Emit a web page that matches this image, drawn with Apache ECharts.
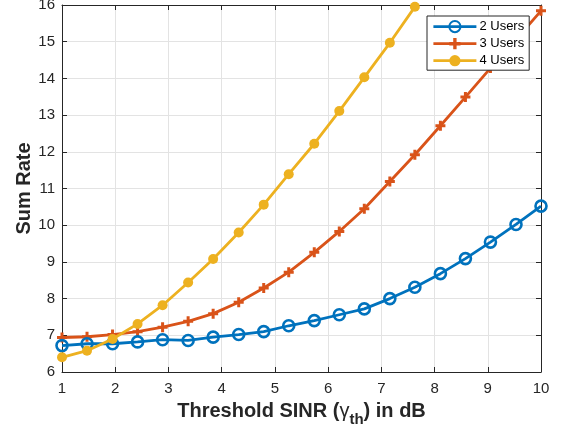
<!DOCTYPE html>
<html>
<head>
<meta charset="utf-8">
<script src="https://cdn.jsdelivr.net/npm/echarts@6/dist/echarts.min.js"></script>
<style>
  html, body { margin: 0; padding: 0; background: #fff; }
  #chart { width: 562px; height: 434px; }
</style>
</head>
<body>
<div id="chart"></div>
<script>
// Threshold SINR values (dB) at which the sum rate was evaluated
const sinrDb = [1, 1.47, 1.95, 2.42, 2.89, 3.37, 3.84, 4.32, 4.79, 5.26,
                5.74, 6.21, 6.68, 7.16, 7.63, 8.11, 8.58, 9.05, 9.53, 10];

// Sum rate per number of users
const users2 = [6.72, 6.77, 6.77, 6.82, 6.88, 6.86, 6.95, 7.02, 7.10, 7.26,
                7.40, 7.56, 7.72, 8.00, 8.31, 8.68, 9.09, 9.54, 10.02, 10.52];
const users3 = [6.94, 6.96, 7.02, 7.10, 7.22, 7.38, 7.59, 7.90, 8.29, 8.72,
                9.26, 9.83, 10.45, 11.19, 11.92, 12.71, 13.49, 14.28, 15.06, 15.84];
const users4 = [6.40, 6.58, 6.90, 7.31, 7.82, 8.44, 9.08, 9.80, 10.56, 11.39,
                12.22, 13.11, 14.03, 14.97, 15.95];

const seriesNames = ['2 Users', '3 Users', '4 Users'];
const xTicks = [1, 2, 3, 4, 5, 6, 7, 8, 9, 10];
const yTicks = [6, 7, 8, 9, 10, 11, 12, 13, 14, 15, 16];

const blue = '#0072BD', orange = '#D95319', yellow = '#EDB120';
const ink = '#262626';
const font = '"Liberation Sans", Arial, Helvetica, sans-serif';
const lineW = 2.8;

const pair = (xs, ys) => ys.map((y, i) => [xs[i], y]);

const baseAxis = {
  type: 'value',
  axisLine: { show: true, onZero: false, lineStyle: { color: ink, width: 1 } },
  axisTick: { show: true, inside: true, length: 5, lineStyle: { color: ink, width: 1 } },
  splitLine: { show: false },
  axisLabel: { show: false }
};

const chart = echarts.init(document.getElementById('chart'), null, { renderer: 'canvas' });

chart.setOption({
  animation: false,
  backgroundColor: '#fff',
  textStyle: { fontFamily: font },
  grid: { left: 62, right: 21, top: 5, bottom: 62, containLabel: false, outerBoundsMode: 'none' },
  legend: {
    orient: 'vertical',
    left: 427,
    top: 16,
    data: seriesNames,
    backgroundColor: '#fff',
    borderColor: ink,
    borderWidth: 1,
    borderRadius: 0,
    padding: [4, 5, 3, 5],
    itemWidth: 43,
    itemHeight: 14,
    itemGap: 4,
    lineStyle: { width: lineW },
    textStyle: { fontSize: 13, color: '#000', fontFamily: font, padding: [0, 0, 0, -2] }
  },
  xAxis: [
    Object.assign({}, baseAxis, {
      min: xTicks[0], max: xTicks[xTicks.length - 1], interval: 1,
      position: 'bottom',
      splitLine: { show: true, lineStyle: { color: '#e3e3e3', width: 1 } },
      axisLabel: { show: true, color: ink, fontSize: 15, margin: 9, fontFamily: font },
      name: '{a|Threshold SINR (}{g|\u03b3}{s|th}{a|) in dB}',
      nameLocation: 'middle',
      nameGap: 24,
      nameTextStyle: {
        rich: {
          a: { fontSize: 20, fontWeight: 'bold', color: ink, fontFamily: font },
          g: { fontSize: 20, color: ink, fontFamily: font },
          s: { fontSize: 15, fontWeight: 'bold', color: ink, fontFamily: font, padding: [16, 0, 0, 0] }
        }
      }
    }),
    Object.assign({}, baseAxis, {
      min: xTicks[0], max: xTicks[xTicks.length - 1], interval: 1,
      position: 'top'
    })
  ],
  yAxis: [
    Object.assign({}, baseAxis, {
      min: yTicks[0], max: yTicks[yTicks.length - 1], interval: 1,
      position: 'left',
      splitLine: { show: true, lineStyle: { color: '#e3e3e3', width: 1 } },
      axisLabel: { show: true, color: ink, fontSize: 15, margin: 7, fontFamily: font },
      name: 'Sum Rate',
      nameLocation: 'middle',
      nameGap: 28,
      nameMoveOverlap: false,
      nameTextStyle: { fontSize: 20, fontWeight: 'bold', color: ink, fontFamily: font }
    }),
    Object.assign({}, baseAxis, {
      min: yTicks[0], max: yTicks[yTicks.length - 1], interval: 1,
      position: 'right'
    })
  ],
  series: [
    {
      name: seriesNames[0],
      type: 'line',
      data: pair(sinrDb, users2),
      symbol: 'circle',
      symbolSize: 11,
      showAllSymbol: true,
      lineStyle: { color: blue, width: lineW },
      itemStyle: { color: 'rgba(0,0,0,0)', borderColor: blue, borderWidth: 2.6 },
      z: 3
    },
    {
      name: seriesNames[1],
      type: 'line',
      data: pair(sinrDb, users3),
      symbol: 'path://M3.5,0 H6.5 V3.5 H10 V6.5 H6.5 V10 H3.5 V6.5 H0 V3.5 H3.5 Z',
      symbolSize: 10,
      showAllSymbol: true,
      lineStyle: { color: orange, width: lineW },
      itemStyle: { color: orange },
      z: 2
    },
    {
      name: seriesNames[2],
      type: 'line',
      data: pair(sinrDb, users4),
      symbol: 'circle',
      symbolSize: 10,
      showAllSymbol: true,
      lineStyle: { color: yellow, width: lineW },
      itemStyle: { color: yellow },
      z: 4
    }
  ]
});
</script>
</body>
</html>
